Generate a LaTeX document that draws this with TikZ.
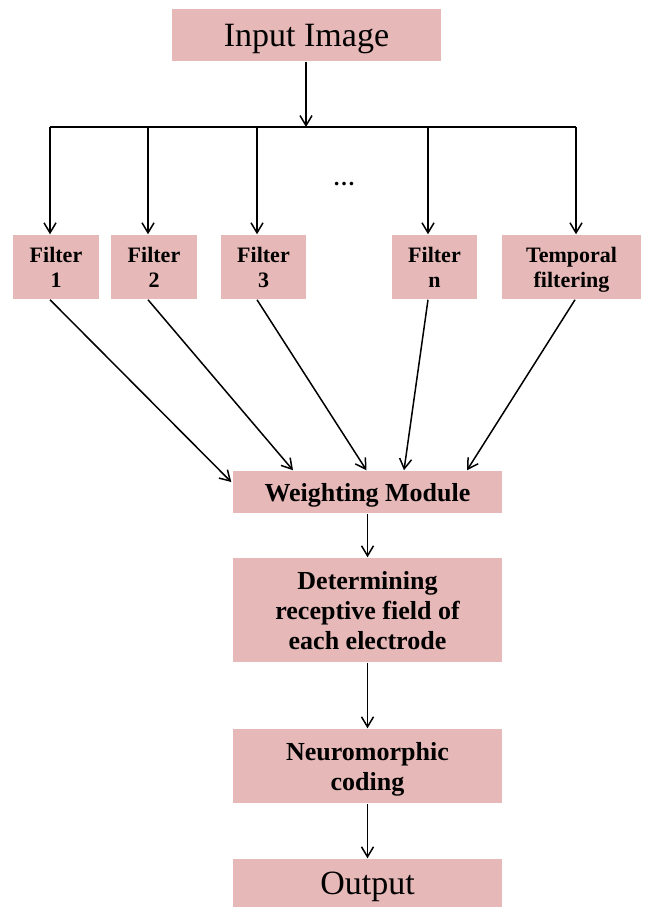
\documentclass[tikz,border=0pt]{standalone}
\usepackage{fontspec}
\setmainfont{Liberation Serif}
\usetikzlibrary{arrows.meta,calc}
\definecolor{boxpink}{HTML}{E6B8B7}
\tikzset{
  box/.style={fill=boxpink,draw=none,inner sep=0pt,align=center,anchor=center,text depth=0pt},
  flt/.style={box,minimum height=64pt,font=\bfseries\fontsize{22}{25}\selectfont},
  mainbox/.style={box,minimum width=269pt,font=\bfseries\fontsize{26}{30}\selectfont},
  bigtext/.style={font=\fontsize{34}{38}\selectfont},
  arr/.style={-{Straight Barb[length=10pt,width=12pt,line width=1.5pt]}},
  ln/.style={line width=1.5pt,black}
}
\begin{document}
\begin{tikzpicture}[x=1pt,y=-1pt,ln]
\useasboundingbox (0,0) rectangle (647,907);
% boxes
\node[box,bigtext,minimum width=269pt,minimum height=52pt] (in) at (306.5,35) {Input Image};
\node[flt,minimum width=86pt] (f1) at (56,267) {Filter\\1};
\node[flt,minimum width=86pt] (f2) at (154,267) {Filter\\2};
\node[flt,minimum width=85pt] (f3) at (263.5,267) {Filter\\3};
\node[flt,minimum width=85pt] (fn) at (434.5,267) {Filter\\n};
\node[flt,minimum width=139pt] (ft) at (571.5,267) {Temporal\\filtering};
\node[mainbox,minimum height=42pt] (wm) at (367.5,492) {Weighting Module};
\node[mainbox,minimum height=104pt] (det) at (367.5,610) {Determining\\receptive field of\\each electrode};
\node[mainbox,minimum height=74pt] (nc) at (367.5,766) {Neuromorphic\\coding};
\node[box,bigtext,minimum width=269pt,minimum height=48pt] (out) at (367.5,883) {Output};
\node[font=\bfseries\fontsize{22}{22}\selectfont,inner sep=0pt] (dots) at (344,184) {…};
% bus
\coordinate (bin) at (306,127);
\coordinate (b1) at (50,127);
\coordinate (b2) at (148,127);
\coordinate (b3) at (257,127);
\coordinate (b4) at (428,127);
\coordinate (b5) at (576,127);
\draw[arr] (in.south -| bin) -- (bin);
\draw (b1) -- (b5);
\draw[arr] (b1) -- (b1 |- f1.north);
\draw[arr] (b2) -- (b2 |- f2.north);
\draw[arr] (b3) -- (b3 |- f3.north);
\draw[arr] (b4) -- (b4 |- fn.north);
\draw[arr] (b5) -- (b5 |- ft.north);
% to weighting module
\draw[arr] ($(f1.south)+(-6,0)$) -- ($(wm.west)+(-1,-10)$);
\draw[arr] ($(f2.south)+(-6,0)$) -- ($(wm.north)+(-74.5,0)$);
\draw[arr] ($(f3.south)+(-6.5,0)$) -- ($(wm.north)+(-1,0)$);
\draw[arr] ($(fn.south)+(-6.5,0)$) -- ($(wm.north)+(36.5,0)$);
\draw[arr] ($(ft.south)+(3.5,0)$) -- ($(wm.north)+(99.5,0)$);
% vertical chain
\draw[arr] (wm) -- (det);
\draw[arr] (det) -- (nc);
\draw[arr] (nc) -- (out);
\end{tikzpicture}
\end{document}
